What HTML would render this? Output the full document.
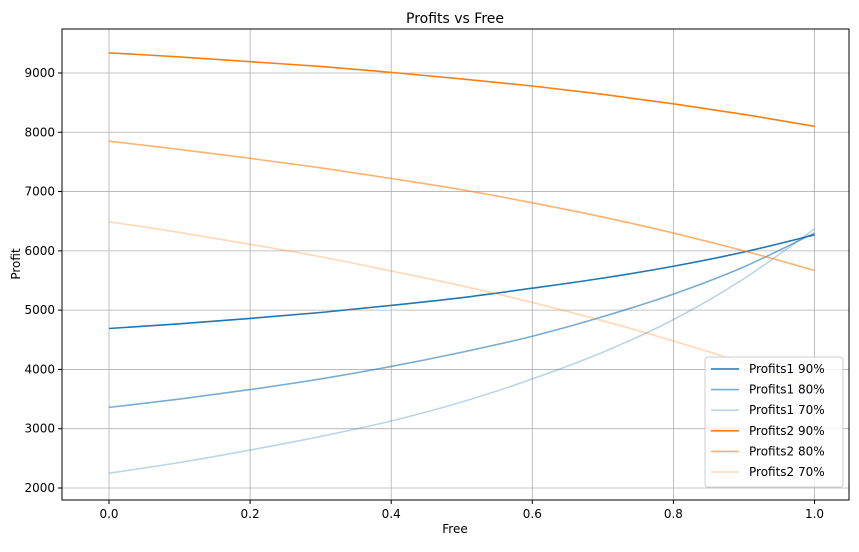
<!DOCTYPE html>
<html><head><meta charset="utf-8"><style>
body{margin:0;background:#fff;font-family:"Liberation Sans","DejaVu Sans",sans-serif}
svg text{font-family:"DejaVu Sans","Liberation Sans",sans-serif}
</style></head><body>
<svg id="chart" width="859" height="547" xmlns="http://www.w3.org/2000/svg">
<rect width="859" height="547" fill="#fff"/>
<text x="455" y="23" font-size="14" text-anchor="middle">Profits vs Free</text>
<g id="grid"></g><g id="series"></g>
<rect x="62" y="29" width="787" height="471" fill="none" stroke="#000" stroke-width="1"/>
<g id="ticks"></g>
<text x="455" y="533" font-size="12" text-anchor="middle">Free</text>
<text x="20" y="264" font-size="12" text-anchor="middle" transform="rotate(-90 20 264)">Profit</text>
<g id="legend"></g>
</svg>
<script>
const xs=[0,0.1,0.2,0.3,0.4,0.5,0.6,0.7,0.8,0.9,1.0];
const xTicks=[0,0.2,0.4,0.6,0.8,1.0];
const xTickLabels=["0.0","0.2","0.4","0.6","0.8","1.0"];
const yTicks=[2000,3000,4000,5000,6000,7000,8000,9000];
const seriesNames=["Profits1 90%","Profits1 80%","Profits1 70%","Profits2 90%","Profits2 80%","Profits2 70%"];
const p1_90=[4690,4770,4860,4960,5080,5210,5370,5540,5740,5980,6270];
const p1_80=[3360,3500,3660,3840,4050,4290,4560,4890,5270,5730,6300];
const p1_70=[2250,2430,2640,2870,3130,3450,3840,4290,4840,5530,6370];
const p2_90=[9340,9270,9190,9110,9010,8900,8780,8640,8480,8300,8100];
const p2_80=[7850,7710,7560,7400,7220,7030,6810,6570,6300,6000,5670];
const p2_70=[6490,6310,6110,5900,5660,5410,5130,4820,4480,4110,3700];
const seriesData=[p1_90,p1_80,p1_70,p2_90,p2_80,p2_70];
const colors=["#1f77b4","#1f77b4","#1f77b4","#ff7f0e","#ff7f0e","#ff7f0e"];
const alphas=[1,0.6,0.3,1,0.6,0.3];
const NS="http://www.w3.org/2000/svg";
const xS=v=>109+v*705.5;
const yS=v=>488-(v-2000)*0.05929;
function mk(t,a,p){const e=document.createElementNS(NS,t);for(const k in a)e.setAttribute(k,a[k]);p.appendChild(e);return e;}
function smooth(P){let d='M'+P[0][0]+','+P[0][1];
 for(let i=0;i<P.length-1;i++){const p0=P[Math.max(0,i-1)],p1=P[i],p2=P[i+1],p3=P[Math.min(P.length-1,i+2)];
  const c1=[p1[0]+(p2[0]-p0[0])/6,p1[1]+(p2[1]-p0[1])/6],c2=[p2[0]-(p3[0]-p1[0])/6,p2[1]-(p3[1]-p1[1])/6];
  d+=' C'+c1+' '+c2+' '+p2;}
 return d;}
const grid=document.getElementById('grid'),ticks=document.getElementById('ticks');
xTicks.forEach((v,i)=>{const x=xS(v);
 const g=mk('line',{x1:x,x2:x,y1:29,y2:500,stroke:'#b0b0b0','stroke-width':0.8},grid);
 
 
 mk('line',{x1:x,x2:x,y1:500,y2:504,stroke:'#000'},ticks);
 const t=mk('text',{x:x,y:518,'font-size':12,'text-anchor':'middle'},ticks);t.textContent=xTickLabels[i];
 
 });
yTicks.forEach(v=>{const y=yS(v);
 const g=mk('line',{x1:62,x2:849,y1:y,y2:y,stroke:'#b0b0b0','stroke-width':0.8},grid);
 
 
 mk('line',{x1:58,x2:62,y1:y,y2:y,stroke:'#000'},ticks);
 const t=mk('text',{x:55,y:y+4,'font-size':12,'text-anchor':'end'},ticks);t.textContent=v;
 
 });
const sg=document.getElementById('series');
seriesData.forEach((d,i)=>{const P=d.map((v,j)=>[xS(xs[j]),yS(v)]);
 const l=mk('path',{d:smooth(P),fill:'none',stroke:colors[i],'stroke-opacity':alphas[i],'stroke-width':1.6},sg);
 
 });
const lg=document.getElementById('legend');
const box=mk('rect',{x:705,y:357,width:138,height:130,rx:3,fill:'#fff','fill-opacity':0.8,stroke:'#ccc'},lg);


seriesNames.forEach((n,i)=>{const y=369+i*20.6;
 const g=mk('g',{},lg);
 
 
 mk('line',{x1:711,x2:739,y1:y,y2:y,stroke:colors[i],'stroke-opacity':alphas[i],'stroke-width':1.6},g);
 const t=mk('text',{x:749,y:y+4,'font-size':12},g);t.textContent=n;});
</script>
</body></html>
